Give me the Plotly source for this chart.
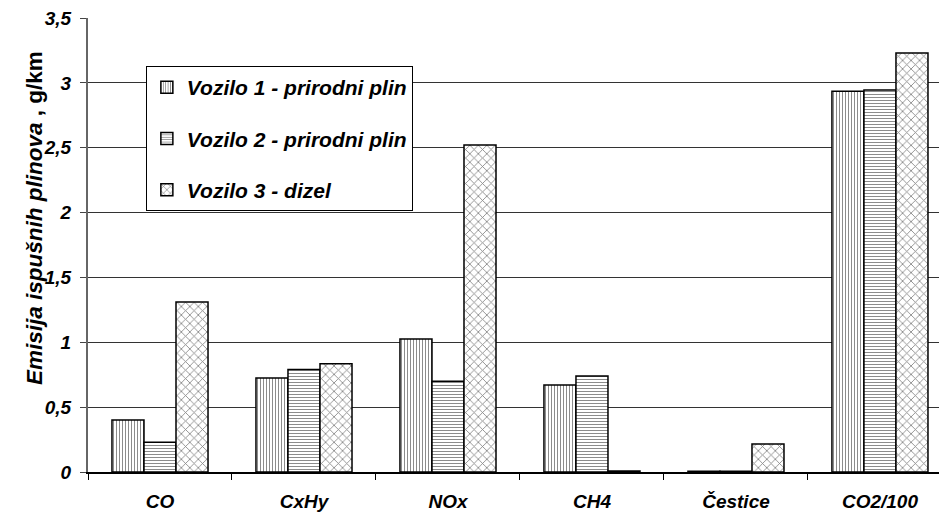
import plotly.graph_objects as go

categories = ["CO", "CxHy", "NOx", "CH4", "Čestice", "CO2/100"]
vozilo1 = [0.40, 0.725, 1.025, 0.67, 0.005, 2.935]
vozilo2 = [0.23, 0.79, 0.70, 0.74, 0.005, 2.945]
vozilo3 = [1.31, 0.835, 2.52, 0.008, 0.215, 3.23]
series_names = ["Vozilo 1 - prirodni plin", "Vozilo 2 - prirodni plin", "Vozilo 3 - dizel"]
y_ticks = [0, 0.5, 1, 1.5, 2, 2.5, 3, 3.5]

FONT = "Liberation Sans, Arial, sans-serif"
patterns = [dict(shape="|", size=3, solidity=0.3),
            dict(shape="-", size=3, solidity=0.3),
            dict(shape="x", size=6, solidity=0.25)]

fig = go.Figure()
for i, (name, vals) in enumerate(zip(series_names, [vozilo1, vozilo2, vozilo3])):
    p = patterns[i]
    fig.add_trace(go.Bar(
        x=categories, y=vals, name=name, legendgroup=f"g{i}",
        marker=dict(color="white",
                    line=dict(color="black", width=1.5),
                    pattern=dict(shape=p["shape"], size=p["size"], solidity=p["solidity"],
                                 fgcolor="black", bgcolor="white", fillmode="overlay")),
    ))

fig.update_layout(
    width=939, height=512,
    margin=dict(l=88, r=0, t=18, b=40, pad=0),
    paper_bgcolor="white", plot_bgcolor="white",
    separators=", ",
    barmode="group", bargap=0.333, bargroupgap=0,
    font=dict(family=FONT, size=16, color="black"),
    legend=dict(
        x=0.068, y=(472 - 66) / 454, xanchor="left", yanchor="top",
        bgcolor="white", bordercolor="black", borderwidth=1,
        font=dict(family=FONT, size=21, weight="bold", style="italic"),
        traceorder="grouped", tracegroupgap=21,
        itemwidth=30,
    ),
    showlegend=True,
)
fig.update_xaxes(
    type="category", range=[-0.5, 5.41],
    showline=True, linecolor="black", linewidth=1.5,
    ticks="outside", tickson="boundaries", ticklen=6, tickcolor="black", tickwidth=1,
    tickfont=dict(family=FONT, size=19, weight="bold", style="italic"),
    ticklabelstandoff=11,
    showgrid=False, automargin=False,
)
fig.update_yaxes(
    range=[0, 3.5], tickvals=y_ticks,
    showline=True, linecolor="#666666", linewidth=2,
    ticks="outside", ticklen=6, tickcolor="#444444",
    tickfont=dict(family=FONT, size=19, weight="bold", style="italic"),
    ticklabelstandoff=5,
    showgrid=True, gridcolor="#333333", gridwidth=1,
    zeroline=False, automargin=False,
)
fig.add_annotation(
    text="<b><i>Emisija ispušnih plinova</i> , g/km</b>",
    textangle=-90, xref="paper", yref="paper",
    x=(34 - 88) / 851, y=(472 - 218) / 454,
    xanchor="center", yanchor="middle", showarrow=False,
    font=dict(family=FONT, size=22.5, color="black"),
)
fig.write_html("out.html", config={"displayModeBar": False},
               post_script="document.body.style.margin='0';document.body.style.overflow='hidden';")
